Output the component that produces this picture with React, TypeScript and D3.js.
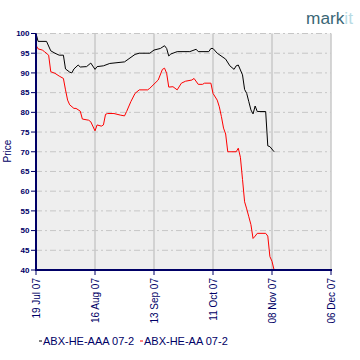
import React from "react";
import * as d3 from "d3";

const xTickLabels = ["19 Jul 07", "16 Aug 07", "13 Sep 07", "11 Oct 07", "08 Nov 07", "06 Dec 07"];
const xTickDates = ["2007-07-19", "2007-08-16", "2007-09-13", "2007-10-11", "2007-11-08", "2007-12-06"];
const yTicks = [40, 45, 50, 55, 60, 65, 70, 75, 80, 85, 90, 95, 100];
const seriesNames = ["ABX-HE-AAA 07-2", "ABX-HE-AA 07-2"];
const seriesColors = ["#000000", "#ff0000"];

const aaaDates = [
  "2007-07-19", "2007-07-20", "2007-07-24", "2007-07-26", "2007-07-28", "2007-07-30", "2007-08-01", "2007-08-02",
  "2007-08-04", "2007-08-05", "2007-08-06", "2007-08-08", "2007-08-09", "2007-08-12", "2007-08-14", "2007-08-16",
  "2007-08-17", "2007-08-20", "2007-08-23", "2007-08-30", "2007-09-04", "2007-09-06", "2007-09-11", "2007-09-13",
  "2007-09-16", "2007-09-18", "2007-09-19", "2007-09-20", "2007-09-21", "2007-09-24", "2007-09-30", "2007-10-03",
  "2007-10-04", "2007-10-09", "2007-10-10", "2007-10-11", "2007-10-13", "2007-10-17", "2007-10-19", "2007-10-21",
  "2007-10-22", "2007-10-23", "2007-10-25", "2007-10-26", "2007-10-27", "2007-10-28", "2007-10-29", "2007-10-30",
  "2007-10-31", "2007-11-01", "2007-11-05", "2007-11-06", "2007-11-07", "2007-11-09",
];
const aaaValues = [
  100, 98, 98, 95.6, 95, 94.5, 94.5, 91,
  90.2, 90, 91, 92, 91.5, 91.6, 92.5, 90.9,
  91.6, 91.8, 92.4, 92.8, 94.7, 95, 95, 95.8,
  96.2, 96.9, 96.2, 94.3, 94.8, 95.4, 95.4, 96,
  95.4, 95.4, 96.2, 96.2, 95, 93.5, 91.8, 90.9,
  91.8, 92, 89.5, 85.8, 84.8, 82.7, 80.6, 79.6,
  81.6, 80.2, 80.2, 71.5, 71.3, 70,
];

const aaDates = [
  "2007-07-19", "2007-07-20", "2007-07-22", "2007-07-23", "2007-07-25", "2007-07-26", "2007-07-28", "2007-07-30",
  "2007-08-01", "2007-08-02", "2007-08-03", "2007-08-04", "2007-08-06", "2007-08-07", "2007-08-09", "2007-08-10",
  "2007-08-13", "2007-08-14", "2007-08-16", "2007-08-17", "2007-08-19", "2007-08-20", "2007-08-21", "2007-08-22",
  "2007-08-25", "2007-08-28", "2007-08-30", "2007-08-31", "2007-09-02", "2007-09-04", "2007-09-06", "2007-09-10",
  "2007-09-11", "2007-09-15", "2007-09-17", "2007-09-18", "2007-09-19", "2007-09-20", "2007-09-22", "2007-09-24",
  "2007-09-26", "2007-09-28", "2007-10-01", "2007-10-02", "2007-10-04", "2007-10-06", "2007-10-07", "2007-10-10",
  "2007-10-11", "2007-10-13", "2007-10-14", "2007-10-15", "2007-10-16", "2007-10-17", "2007-10-18", "2007-10-22",
  "2007-10-23", "2007-10-24", "2007-10-25", "2007-10-26", "2007-10-27", "2007-10-28", "2007-10-29", "2007-10-30",
  "2007-10-31", "2007-11-01", "2007-11-05", "2007-11-06", "2007-11-07", "2007-11-08", "2007-11-09",
];
const aaValues = [
  97, 96.1, 95.8, 95.4, 94.5, 90.3, 89.9, 89.2,
  88.6, 85.7, 83.1, 81.9, 81, 81, 80.3, 78.3,
  78, 77.6, 75.3, 76.8, 76.5, 76.8, 79.5, 79.7,
  79.7, 79.3, 79.1, 80.2, 82.7, 84.8, 85.7, 85.7,
  86.1, 88.2, 90.9, 91.2, 89.9, 86.4, 86.5, 85.7,
  87.4, 87.9, 88.2, 88.6, 87.1, 87.1, 87.4, 87.4,
  84.8, 83.1, 81.4, 78.9, 76, 74.5, 70, 70,
  70.9, 68.6, 63, 57.3, 55.5, 53.5, 51.5, 48,
  48.6, 49.3, 49.3, 48.6, 43.4, 42.2, 40,
];

const parse = d3.timeParse("%Y-%m-%d");
const navy = "#000066";

export default function App() {
  const left = 36, right = 331, top = 33.5, bottom = 270;
  const x = d3.scaleTime().domain([parse("2007-07-19")!, parse("2007-12-06")!]).range([left, right]);
  const y = d3.scaleLinear().domain([40, 100]).range([bottom, top]);
  const line = d3.line<[Date, number]>().x((d) => x(d[0])).y((d) => y(d[1]));
  const series = [
    aaaDates.map((d, i) => [parse(d)!, aaaValues[i]] as [Date, number]),
    aaDates.map((d, i) => [parse(d)!, aaValues[i]] as [Date, number]),
  ];
  const font = "'Liberation Sans', Arial, sans-serif";
  return (
    <svg width={360} height={360} style={{ position: "absolute", left: 0, top: 0, background: "#fff" }}>
      <rect x={left} y={top} width={right - left} height={bottom - top} fill="#eeeeee" />
      {yTicks.map((t) => (
        <line key={"gy" + t} x1={left} x2={right} y1={y(t)} y2={y(t)} stroke="#c6c6c6" strokeWidth={1} strokeDasharray="6 3 2 3" />
      ))}
      {xTickDates.slice(1).map((d) => (
        <line key={"gx" + d} x1={x(parse(d)!)} x2={x(parse(d)!)} y1={top} y2={bottom} stroke="#c8c8c8" strokeWidth={1.5} />
      ))}
      {series.map((s, i) => (
        <path key={i} d={line(s) || ""} fill="none" stroke={seriesColors[i]} strokeWidth={1} />
      ))}
      <line x1={left} x2={left} y1={top} y2={bottom + 1} stroke={navy} strokeWidth={2} />
      <line x1={left - 1} x2={right + 1} y1={bottom} y2={bottom} stroke={navy} strokeWidth={2} />
      {yTicks.map((t) => (
        <g key={"ty" + t}>
          <line x1={left - 5} x2={left} y1={y(t)} y2={y(t)} stroke={navy} strokeWidth={1} />
          <text x={29.5} y={y(t)} dy="0.35em" textAnchor="end" fontFamily={font} fontWeight="bold" fontSize={8} fill={navy}>
            {t}
          </text>
        </g>
      ))}
      {xTickDates.map((d, i) => {
        const px = x(parse(d)!);
        return (
          <g key={"tx" + d}>
            <line x1={px} x2={px} y1={bottom} y2={bottom + 5} stroke={navy} strokeWidth={1} />
            <text transform={`translate(${px},${bottom + 8}) rotate(-90)`} dy="0.35em" textAnchor="end" fontFamily={font} fontSize={10} fill={navy}>
              {xTickLabels[i]}
            </text>
          </g>
        );
      })}
      <text transform="translate(7,151) rotate(-90)" dy="0.35em" textAnchor="middle" fontFamily={font} fontSize={10} fill={navy}>
        Price
      </text>
      {seriesNames.map((n, i) => {
        const lx = i === 0 ? 39 : 140;
        return (
          <g key={n}>
            <line x1={lx} x2={lx + 3} y1={341} y2={341} stroke={seriesColors[i]} strokeWidth={1} />
            <text x={lx + 4} y={341} dy="0.35em" fontFamily={font} fontSize={11} fill={navy}>
              {n}
            </text>
          </g>
        );
      })}
      <text x={306} y={24} fontFamily={font} fontSize={16} textLength={47} lengthAdjust="spacingAndGlyphs">
        <tspan fill="#3b6776">mark</tspan>
        <tspan fill="#b8dbe4">it</tspan>
      </text>
    </svg>
  );
}
